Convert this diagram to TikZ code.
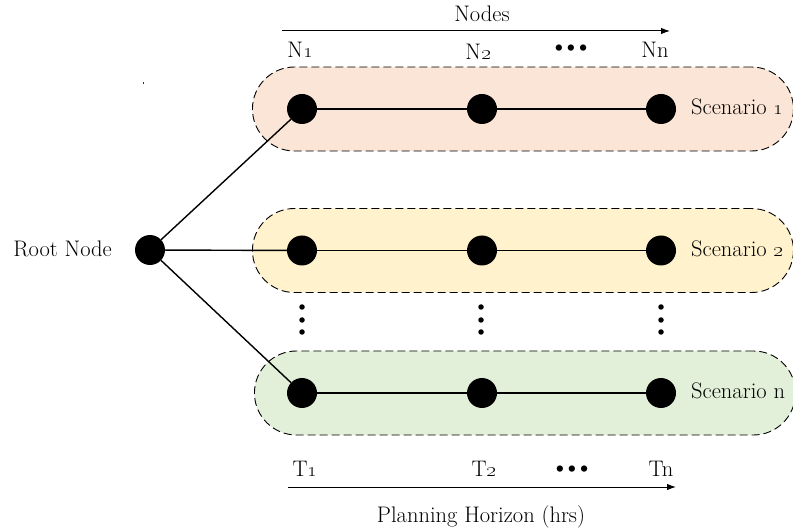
\documentclass[tikz,border=0pt]{standalone}
\usetikzlibrary{arrows.meta}
\definecolor{scenpeach}{RGB}{251,229,214}
\definecolor{scenyellow}{RGB}{255,242,204}
\definecolor{scengreen}{RGB}{226,240,217}
\tikzset{
  txt/.style={font=\fontsize{22.5}{26}\selectfont, inner sep=0pt, anchor=base},
  dotnode/.style={circle, fill=black, minimum size=30pt, inner sep=0pt},
  scenbox/.style={draw, dashed, dash pattern=on 8pt off 4pt, line width=0.9pt,
    rounded corners=42pt, minimum width=541pt, minimum height=84pt, anchor=west, inner sep=0pt},
  link/.style={line width=1.4pt},
  axis/.style={line width=1pt, -{Latex[length=9pt,width=6.5pt]}},
  vdot/.style={circle, fill=black, minimum size=5.5pt, inner sep=0pt},
}
\newcommand{\osn}[1]{\oldstylenums{#1}}
\newcommand{\hdots}{{\fontsize{28}{28}\selectfont\textbullet\kern-8pt\textbullet\kern-8pt\textbullet}}
\begin{document}
\begin{tikzpicture}[x=1pt,y=-1pt]
\useasboundingbox (0,0) rectangle (793,529);

% scenario bands
\node[scenbox, fill=scenpeach]  (band1) at (252,109) {};
\node[scenbox, fill=scenyellow] (band2) at (252,250.5) {};
\node[scenbox, fill=scengreen]  (bandn) at (254,393) {};

% time axis over the nodes
\coordinate (topA) at (282,31);
\coordinate (topB) at (670,31);
\draw[axis] (topA) -- (topB);
\node[txt] (lblnodes) at (482,22) {Nodes};
\node[txt] (n1) at (300,58) {N\osn{1}};
\node[txt] (n2) at (478,60) {N\osn{2}};
\node[txt] (ndots) at (571,56) {\hdots};
\node[txt] (nn) at (655,58) {Nn};

% root node
\node[dotnode] (root) at (150,250) {};
\node[txt, anchor=base east] (rootlbl) at (112,257) {Root Node};

% scenario 1
\node[dotnode] (a1) at (302,109) {};
\node[dotnode] (a2) at (482,109) {};
\node[dotnode] (a3) at (661,109) {};
\node[txt, anchor=base west] (s1lbl) at (691,115) {Scenario \osn{1}};

% scenario 2
\node[dotnode] (b1) at (302,250.5) {};
\node[dotnode] (b2) at (482,250.5) {};
\node[dotnode] (b3) at (661,250.5) {};
\node[txt, anchor=base west] (s2lbl) at (691,257) {Scenario \osn{2}};

% scenario n
\node[dotnode] (c1) at (302,393) {};
\node[dotnode] (c2) at (482,393) {};
\node[dotnode] (c3) at (661,393) {};
\node[txt, anchor=base west] (snlbl) at (691,399) {Scenario n};

% links
\draw[link] (root) -- (a1);
\draw[link] (root) -- (b1);
\draw[link] (root) -- (c1);
\draw[link] (a1) -- (a2) -- (a3);
\draw[link] (b1) -- (b2) -- (b3);
\draw[link] (c1) -- (c2) -- (c3);

% vertical ellipses between scenarios
\foreach \x/\k in {302/1,481/2,661/3}{
  \node[vdot] (v\k a) at (\x,307) {};
  \node[vdot] (v\k b) at (\x,320) {};
  \node[vdot] (v\k c) at (\x,332) {};
}

% planning horizon axis
\coordinate (botA) at (288,487);
\coordinate (botB) at (676,487);
\draw[axis] (botA) -- (botB);
\node[txt] (t1) at (305,476) {T\osn{1}};
\node[txt] (t2) at (484,476) {T\osn{2}};
\node[txt] (tdots) at (572,476) {\hdots};
\node[txt] (tn) at (661,476) {Tn};
\node[txt] (plan) at (481,522) {Planning Horizon (hrs)};

% small stray mark
\fill[black!80] (142.5,82.5) rectangle (144,84);
\end{tikzpicture}
\end{document}
